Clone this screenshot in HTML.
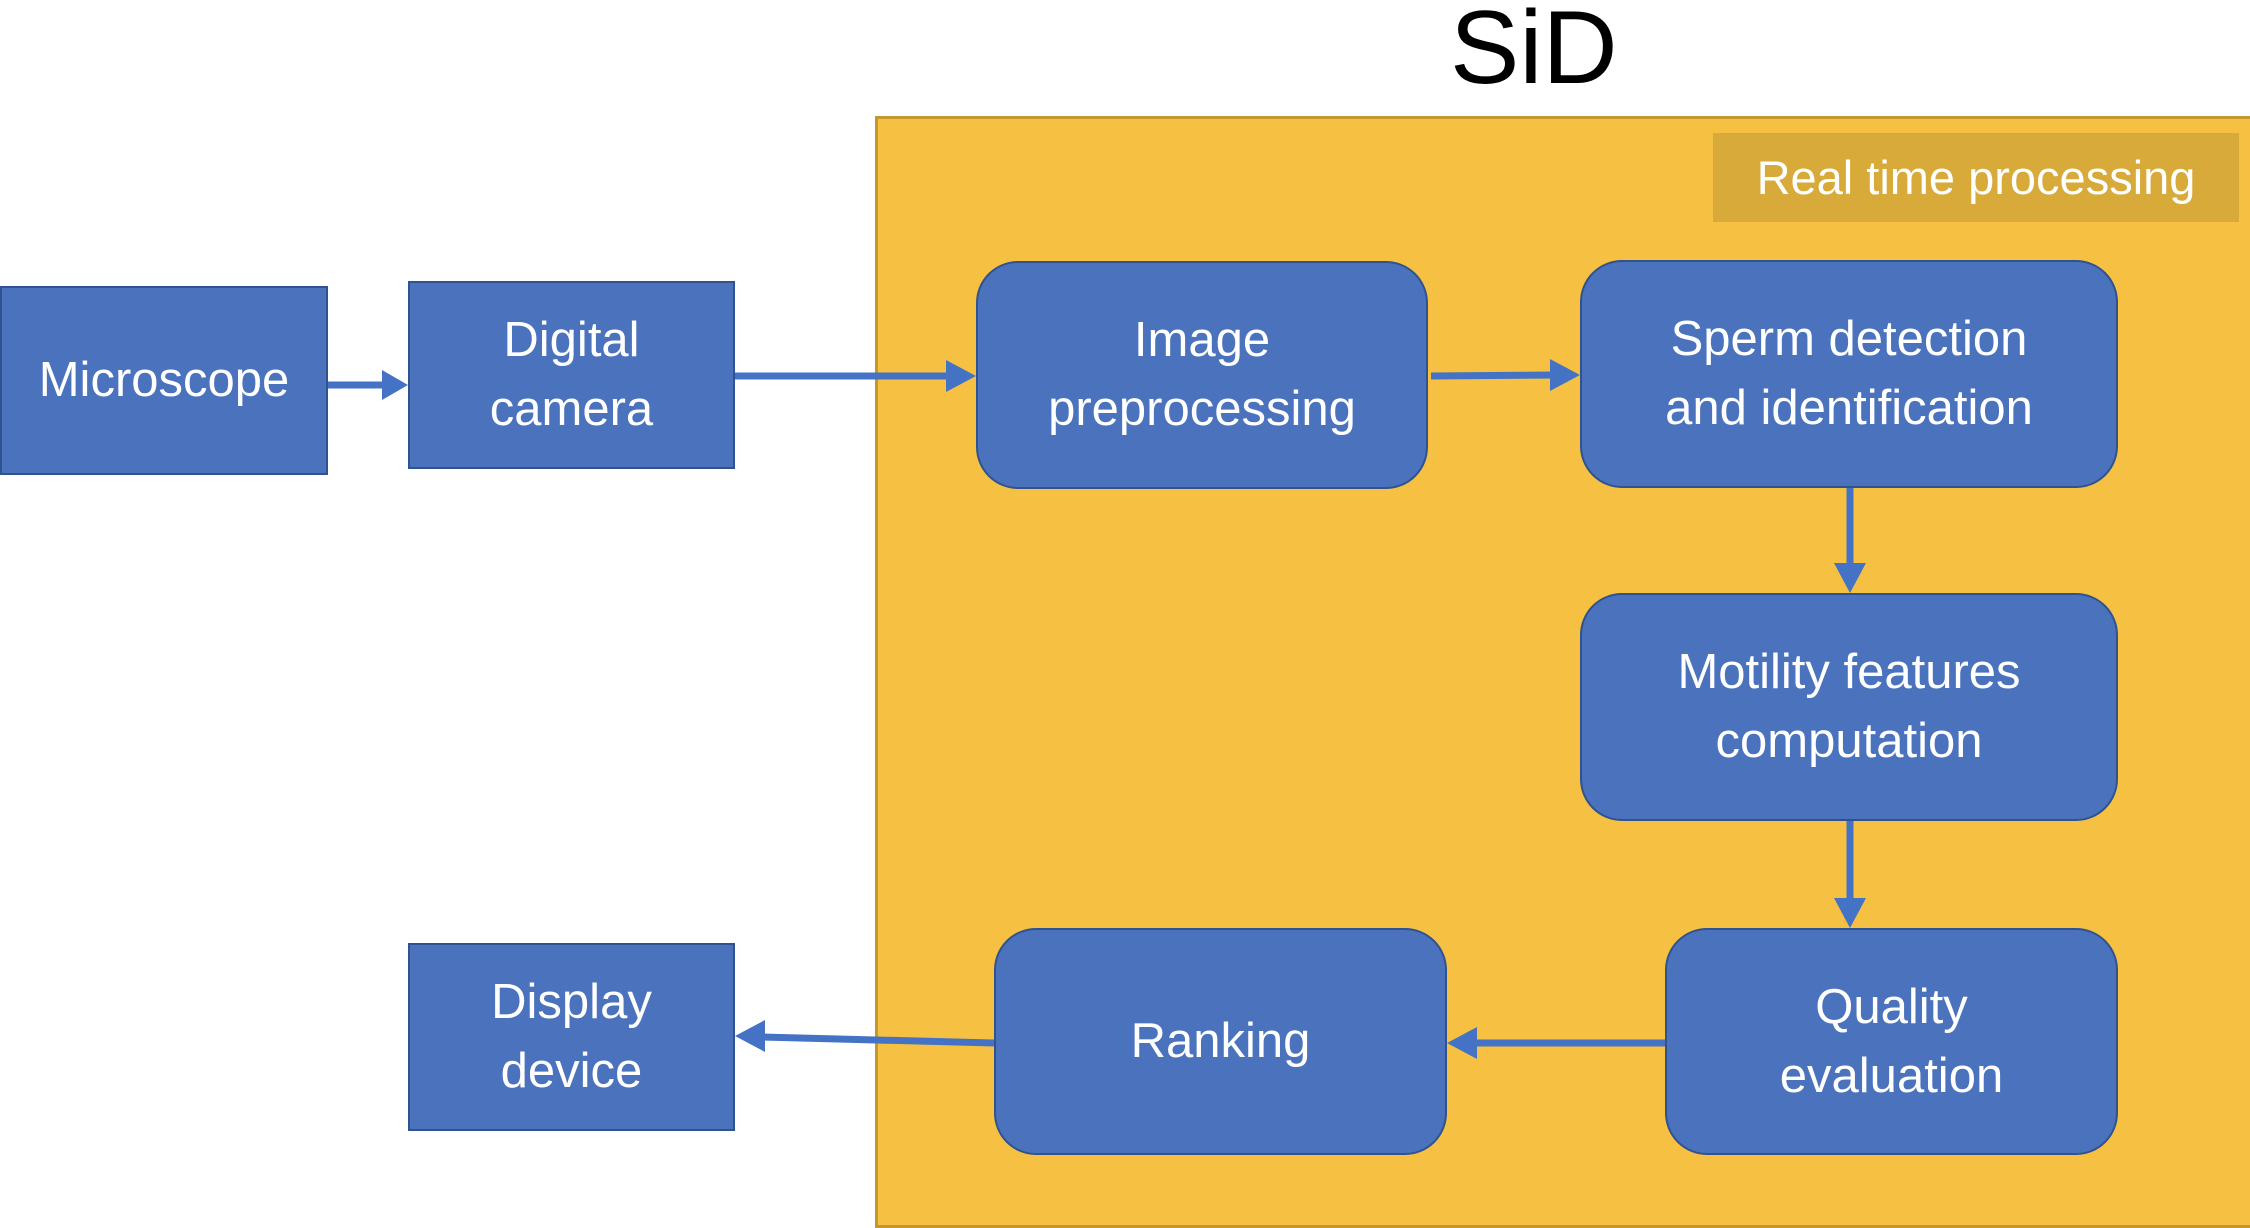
<!DOCTYPE html>
<html><head><style>
body{margin:0;width:2250px;height:1224px;background:#fff;position:relative;overflow:hidden;font-family:"Liberation Sans",sans-serif}
.b{position:absolute;background:#4a72bd;border:2.5px solid #30538f;box-sizing:border-box;color:#fff;font-size:49px;line-height:69px;display:flex;align-items:center;justify-content:center;text-align:center}
.r{border-radius:42px}
</style></head><body>
<div style="position:absolute;left:875px;top:116px;width:1380px;height:1112px;background:#f6c142;border:3px solid #c4982c;box-sizing:border-box"></div>
<div style="position:absolute;left:1713px;top:133px;width:526px;height:89px;background:#d8aa3a;color:#fff;font-size:47px;display:flex;align-items:center;justify-content:center">Real time processing</div>
<div style="position:absolute;left:1450px;top:0px;font-size:104px;line-height:96px;color:#000">SiD</div>
<div class="b" style="left:0;top:286px;width:328px;height:189px">Microscope</div>
<div class="b" style="left:408px;top:281px;width:327px;height:188px">Digital<br>camera</div>
<div class="b r" style="left:976px;top:261px;width:452px;height:228px">Image<br>preprocessing</div>
<div class="b r" style="left:1580px;top:260px;width:538px;height:228px">Sperm detection<br>and identification</div>
<div class="b r" style="left:1580px;top:593px;width:538px;height:228px">Motility features<br>computation</div>
<div class="b r" style="left:1665px;top:928px;width:453px;height:227px">Quality<br>evaluation</div>
<div class="b r" style="left:994px;top:928px;width:453px;height:227px">Ranking</div>
<div class="b" style="left:408px;top:943px;width:327px;height:188px">Display<br>device</div>
<svg width="2250" height="1224" style="position:absolute;left:0;top:0">
<g stroke="#4472c4" stroke-width="7" fill="#4472c4">
<line x1="328" y1="385" x2="385" y2="385"/><polygon stroke="none" points="408,385 382,370 382,400"/>
<line x1="735" y1="376" x2="950" y2="376"/><polygon stroke="none" points="976,376 946,360 946,392"/>
<line x1="1431" y1="376" x2="1555" y2="375"/><polygon stroke="none" points="1580,375 1550,359 1550,391"/>
<line x1="1850" y1="488" x2="1850" y2="568"/><polygon stroke="none" points="1850,593 1834,563 1866,563"/>
<line x1="1850" y1="821" x2="1850" y2="903"/><polygon stroke="none" points="1850,928 1834,898 1866,898"/>
<line x1="1665" y1="1043" x2="1472" y2="1043"/><polygon stroke="none" points="1447,1043 1477,1027 1477,1059"/>
<line x1="994" y1="1043" x2="760" y2="1037"/><polygon stroke="none" points="735,1036 765,1020 765,1052"/>
</g></svg>
</body></html>
